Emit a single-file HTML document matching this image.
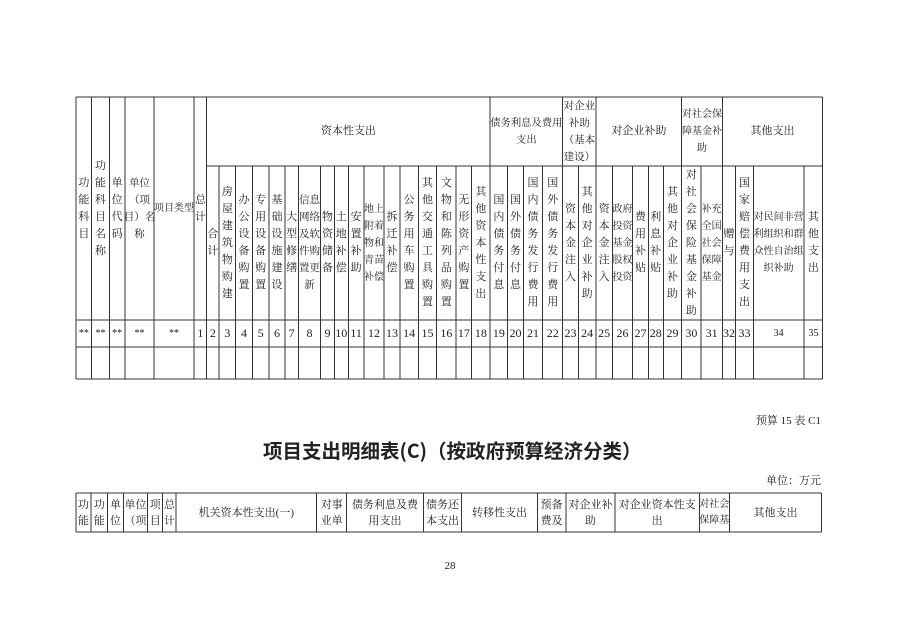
<!DOCTYPE html>
<html><head><meta charset="utf-8">
<style>
html,body{margin:0;padding:0;background:#fff;}
body{width:898px;height:635px;position:relative;overflow:hidden;font-family:"Liberation Serif","Noto Serif CJK SC",serif;color:#222;}
.c{position:absolute;display:flex;align-items:center;justify-content:center;text-align:center;font-size:11px;line-height:17px;white-space:nowrap;}
.v span{display:block;width:1em;white-space:normal;word-break:break-all;}
.n{position:absolute;top:320px;height:27px;display:flex;align-items:center;justify-content:center;font-size:12px;}
.h{top:166px;height:154px;}
.b{position:absolute;top:493px;height:39px;display:flex;align-items:center;justify-content:center;text-align:center;font-size:11px;line-height:16px;white-space:nowrap;}
svg{position:absolute;left:0;top:0;}
</style></head><body>
<svg width="898" height="635" stroke="#333" stroke-width="1" shape-rendering="crispEdges">
<g>
<line x1="76" y1="97" x2="822.7" y2="97"/>
<line x1="206.7" y1="166" x2="822.7" y2="166"/>
<line x1="76" y1="320" x2="822.7" y2="320"/>
<line x1="76" y1="347" x2="822.7" y2="347"/>
<line x1="76" y1="379" x2="822.7" y2="379"/>
</g>
<g>
<line x1="76" y1="97" x2="76" y2="379"/><line x1="91.7" y1="97" x2="91.7" y2="379"/><line x1="109.3" y1="97" x2="109.3" y2="379"/><line x1="125" y1="97" x2="125" y2="379"/><line x1="154" y1="97" x2="154" y2="379"/><line x1="194" y1="97" x2="194" y2="379"/><line x1="206.7" y1="97" x2="206.7" y2="379"/>
<line x1="490" y1="97" x2="490" y2="379"/><line x1="562.7" y1="97" x2="562.7" y2="379"/><line x1="596" y1="97" x2="596" y2="379"/><line x1="681.7" y1="97" x2="681.7" y2="379"/><line x1="722.3" y1="97" x2="722.3" y2="379"/><line x1="822.7" y1="97" x2="822.7" y2="379"/>
</g>
<g>
<line x1="219" y1="166" x2="219" y2="379"/><line x1="235.7" y1="166" x2="235.7" y2="379"/><line x1="252.3" y1="166" x2="252.3" y2="379"/><line x1="269" y1="166" x2="269" y2="379"/><line x1="285" y1="166" x2="285" y2="379"/><line x1="298.3" y1="166" x2="298.3" y2="379"/><line x1="320.7" y1="166" x2="320.7" y2="379"/><line x1="334.3" y1="166" x2="334.3" y2="379"/><line x1="348.3" y1="166" x2="348.3" y2="379"/><line x1="364" y1="166" x2="364" y2="379"/><line x1="384" y1="166" x2="384" y2="379"/><line x1="400" y1="166" x2="400" y2="379"/><line x1="418.3" y1="166" x2="418.3" y2="379"/><line x1="436.7" y1="166" x2="436.7" y2="379"/><line x1="456" y1="166" x2="456" y2="379"/><line x1="471.7" y1="166" x2="471.7" y2="379"/>
<line x1="507.7" y1="166" x2="507.7" y2="379"/><line x1="523.3" y1="166" x2="523.3" y2="379"/><line x1="542.7" y1="166" x2="542.7" y2="379"/><line x1="578.3" y1="166" x2="578.3" y2="379"/><line x1="612.3" y1="166" x2="612.3" y2="379"/><line x1="632.7" y1="166" x2="632.7" y2="379"/><line x1="648.3" y1="166" x2="648.3" y2="379"/><line x1="663.3" y1="166" x2="663.3" y2="379"/><line x1="701" y1="166" x2="701" y2="379"/><line x1="735.7" y1="166" x2="735.7" y2="379"/><line x1="753.3" y1="166" x2="753.3" y2="379"/><line x1="804" y1="166" x2="804" y2="379"/>
</g>
<g>
<line x1="76" y1="493" x2="821.7" y2="493"/><line x1="76" y1="532" x2="821.7" y2="532"/>
<line x1="76" y1="493" x2="76" y2="532"/><line x1="91" y1="493" x2="91" y2="532"/><line x1="107.7" y1="493" x2="107.7" y2="532"/><line x1="123.3" y1="493" x2="123.3" y2="532"/><line x1="147.7" y1="493" x2="147.7" y2="532"/><line x1="162.7" y1="493" x2="162.7" y2="532"/><line x1="176" y1="493" x2="176" y2="532"/><line x1="316.7" y1="493" x2="316.7" y2="532"/><line x1="346.7" y1="493" x2="346.7" y2="532"/><line x1="423.3" y1="493" x2="423.3" y2="532"/><line x1="461.7" y1="493" x2="461.7" y2="532"/><line x1="537.3" y1="493" x2="537.3" y2="532"/><line x1="566" y1="493" x2="566" y2="532"/><line x1="615" y1="493" x2="615" y2="532"/><line x1="699.3" y1="493" x2="699.3" y2="532"/><line x1="729.3" y1="493" x2="729.3" y2="532"/><line x1="821.7" y1="493" x2="821.7" y2="532"/>
</g>
</svg>

<div class="c v" style="left:76px;top:97px;width:15.7px;height:223px"><span>功能科目</span></div>
<div class="c v" style="left:91.7px;top:97px;width:17.6px;height:223px"><span>功能科目名称</span></div>
<div class="c v" style="left:109.3px;top:97px;width:15.7px;height:223px"><span>单位代码</span></div>
<div class="c" style="left:125px;top:97px;width:29px;height:223px;font-size:10.5px">单位<br>（项<br>目）名<br>称</div>
<div class="c" style="left:154px;top:97px;width:40px;height:223px;font-size:10px">项目类型</div>
<div class="c v" style="left:194px;top:97px;width:12.7px;height:223px"><span>总计</span></div>

<div class="c" style="left:206.7px;top:97px;width:283.3px;height:69px">资本性支出</div>
<div class="c" style="left:490px;top:97px;width:72.7px;height:69px;font-size:10.3px">债务利息及费用<br>支出</div>
<div class="c" style="left:562.7px;top:97px;width:33.3px;height:69px;font-size:10.5px">对企业<br>补助<br>（基本<br>建设）</div>
<div class="c" style="left:596px;top:97px;width:85.7px;height:69px">对企业补助</div>
<div class="c" style="left:681.7px;top:97px;width:40.6px;height:69px;font-size:10px">对社会保<br>障基金补<br>助</div>
<div class="c" style="left:722.3px;top:97px;width:100.4px;height:69px">其他支出</div>

<div class="c v h" style="left:206.7px;width:12.3px"><span>合计</span></div>
<div class="c v h" style="left:219px;width:16.7px"><span>房屋建筑物购建</span></div>
<div class="c v h" style="left:235.7px;width:16.6px"><span>办公设备购置</span></div>
<div class="c v h" style="left:252.3px;width:16.7px"><span>专用设备购置</span></div>
<div class="c v h" style="left:269px;width:16px"><span>基础设施建设</span></div>
<div class="c v h" style="left:285px;width:13.3px"><span>大型修缮</span></div>
<div class="c h" style="left:298.3px;width:22.4px;font-size:10.5px">信息<br>网络<br>及软<br>件购<br>置更<br>新</div>
<div class="c v h" style="left:320.7px;width:13.6px"><span>物资储备</span></div>
<div class="c v h" style="left:334.3px;width:14px"><span>土地补偿</span></div>
<div class="c v h" style="left:348.3px;width:15.7px"><span>安置补助</span></div>
<div class="c h" style="left:364px;width:20px;font-size:10px">地上<br>附着<br>物和<br>青苗<br>补偿</div>
<div class="c v h" style="left:384px;width:16px"><span>拆迁补偿</span></div>
<div class="c v h" style="left:400px;width:18.3px"><span>公务用车购置</span></div>
<div class="c v h" style="left:418.3px;width:18.4px"><span>其他交通工具购置</span></div>
<div class="c v h" style="left:436.7px;width:19.3px"><span>文物和陈列品购置</span></div>
<div class="c v h" style="left:456px;width:15.7px"><span>无形资产购置</span></div>
<div class="c v h" style="left:471.7px;width:18.3px"><span>其他资本性支出</span></div>
<div class="c v h" style="left:490px;width:17.7px"><span>国内债务付息</span></div>
<div class="c v h" style="left:507.7px;width:15.6px"><span>国外债务付息</span></div>
<div class="c v h" style="left:523.3px;width:19.4px"><span>国内债务发行费用</span></div>
<div class="c v h" style="left:542.7px;width:20px"><span>国外债务发行费用</span></div>
<div class="c v h" style="left:562.7px;width:15.6px"><span>资本金注入</span></div>
<div class="c v h" style="left:578.3px;width:17.7px"><span>其他对企业补助</span></div>
<div class="c v h" style="left:596px;width:16.3px"><span>资本金注入</span></div>
<div class="c h" style="left:612.3px;width:20.4px;font-size:10px">政府<br>投资<br>基金<br>股权<br>投资</div>
<div class="c v h" style="left:632.7px;width:15.6px"><span>费用补贴</span></div>
<div class="c v h" style="left:648.3px;width:15px"><span>利息补贴</span></div>
<div class="c v h" style="left:663.3px;width:18.4px"><span>其他对企业补助</span></div>
<div class="c v h" style="left:681.7px;width:19.3px"><span>对社会保险基金补助</span></div>
<div class="c h" style="left:701px;width:21.3px;font-size:10px">补充<br>全国<br>社会<br>保障<br>基金</div>
<div class="c v h" style="left:722.3px;width:13.4px"><span>赠与</span></div>
<div class="c v h" style="left:735.7px;width:17.6px"><span>国家赔偿费用支出</span></div>
<div class="c h" style="left:753.3px;width:50.7px;font-size:10px">对民间非营<br>利组织和群<br>众性自治组<br>织补助</div>
<div class="c v h" style="left:804px;width:18.7px"><span>其他支出</span></div>

<div class="n" style="left:76px;width:15.7px;font-size:10px">**</div>
<div class="n" style="left:91.7px;width:17.6px;font-size:10px">**</div>
<div class="n" style="left:109.3px;width:15.7px;font-size:10px">**</div>
<div class="n" style="left:125px;width:29px;font-size:10px">**</div>
<div class="n" style="left:154px;width:40px;font-size:10px">**</div>
<div class="n" style="left:194px;width:12.7px">1</div>
<div class="n" style="left:206.7px;width:12.3px">2</div>
<div class="n" style="left:219px;width:16.7px">3</div>
<div class="n" style="left:235.7px;width:16.6px">4</div>
<div class="n" style="left:252.3px;width:16.7px">5</div>
<div class="n" style="left:269px;width:16px">6</div>
<div class="n" style="left:285px;width:13.3px">7</div>
<div class="n" style="left:298.3px;width:22.4px">8</div>
<div class="n" style="left:320.7px;width:13.6px">9</div>
<div class="n" style="left:334.3px;width:14px">10</div>
<div class="n" style="left:348.3px;width:15.7px">11</div>
<div class="n" style="left:364px;width:20px">12</div>
<div class="n" style="left:384px;width:16px">13</div>
<div class="n" style="left:400px;width:18.3px">14</div>
<div class="n" style="left:418.3px;width:18.4px">15</div>
<div class="n" style="left:436.7px;width:19.3px">16</div>
<div class="n" style="left:456px;width:15.7px">17</div>
<div class="n" style="left:471.7px;width:18.3px">18</div>
<div class="n" style="left:490px;width:17.7px">19</div>
<div class="n" style="left:507.7px;width:15.6px">20</div>
<div class="n" style="left:523.3px;width:19.4px">21</div>
<div class="n" style="left:542.7px;width:20px">22</div>
<div class="n" style="left:562.7px;width:15.6px">23</div>
<div class="n" style="left:578.3px;width:17.7px">24</div>
<div class="n" style="left:596px;width:16.3px">25</div>
<div class="n" style="left:612.3px;width:20.4px">26</div>
<div class="n" style="left:632.7px;width:15.6px">27</div>
<div class="n" style="left:648.3px;width:15px">28</div>
<div class="n" style="left:663.3px;width:18.4px">29</div>
<div class="n" style="left:681.7px;width:19.3px">30</div>
<div class="n" style="left:701px;width:21.3px">31</div>
<div class="n" style="left:722.3px;width:13.4px">32</div>
<div class="n" style="left:735.7px;width:17.6px">33</div>
<div class="n" style="left:753.3px;width:50.7px;font-size:10px">34</div>
<div class="n" style="left:804px;width:18.7px;font-size:10px">35</div>

<div style="position:absolute;right:77px;top:413px;font-size:11px;line-height:16px;white-space:nowrap">预算 15 表 C1</div>
<div style="position:absolute;left:263px;top:437px;width:370px;font-family:'Noto Sans CJK SC','WenQuanYi Zen Hei',sans-serif;font-weight:bold;font-size:19.5px;line-height:26px;white-space:nowrap">项目支出明细表(C)（按政府预算经济分类）</div>
<div style="position:absolute;right:77px;top:473px;font-size:11px;line-height:16px;white-space:nowrap">单位：万元</div>

<div class="b" style="left:76px;width:15px">功<br>能</div>
<div class="b" style="left:91px;width:16.7px">功<br>能</div>
<div class="b" style="left:107.7px;width:15.6px">单<br>位</div>
<div class="b" style="left:123.3px;width:24.4px">单位<br>（项</div>
<div class="b" style="left:147.7px;width:15px">项<br>目</div>
<div class="b" style="left:162.7px;width:13.3px">总<br>计</div>
<div class="b" style="left:176px;width:140.7px">机关资本性支出(一)</div>
<div class="b" style="left:316.7px;width:30px">对事<br>业单</div>
<div class="b" style="left:346.7px;width:76.6px">债务利息及费<br>用支出</div>
<div class="b" style="left:423.3px;width:38.4px">债务还<br>本支出</div>
<div class="b" style="left:461.7px;width:75.6px">转移性支出</div>
<div class="b" style="left:537.3px;width:28.7px">预备<br>费及</div>
<div class="b" style="left:566px;width:49px">对企业补<br>助</div>
<div class="b" style="left:615px;width:84.3px">对企业资本性支<br>出</div>
<div class="b" style="left:699.3px;width:30px;font-size:10px">对社会<br>保障基</div>
<div class="b" style="left:729.3px;width:92.4px">其他支出</div>

<div style="position:absolute;left:440px;top:559px;width:20px;text-align:center;font-size:11px;line-height:14px">28</div>
</body></html>
